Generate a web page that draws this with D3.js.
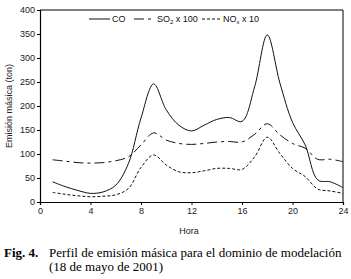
<!DOCTYPE html>
<html>
<head>
<meta charset="utf-8">
<script src="https://cdn.jsdelivr.net/npm/d3@7"></script>
<style>
  body { margin: 0; background: #fff; }
  svg { display: block; }
  .tick text { font-family: "Liberation Sans", Arial, sans-serif; font-size: 9px; fill: #222; }
</style>
</head>
<body>
<div id="chart"></div>
<script>
// hourly emission profiles (ton)
var hours = [1, 2, 3, 4, 5, 6, 7, 8, 9, 10, 11, 12, 13, 14, 15, 16, 17, 18, 19, 20, 21, 22, 23, 24]
var coValues  = [42, 32, 24, 18, 21, 35, 80, 175, 246, 192, 160, 148, 160, 172, 176, 168, 240, 348, 248, 166, 119, 46, 42, 30]
var so2Values = [88, 85, 82, 81, 82, 86, 94, 119, 144, 129, 122, 120, 122, 125, 126, 125, 141, 163, 140, 122, 112, 89, 89, 84]
var noxValues = [20, 16, 13, 11, 12, 15, 28, 72, 98, 77, 63, 61, 65, 70, 70, 68, 94, 135, 101, 70, 53, 27, 23, 18]
var xTicks = [0, 4, 8, 12, 16, 20, 24]
var yTicks = [0, 50, 100, 150, 200, 250, 300, 350, 400]

var series = [
    { name: "CO", values: coValues, dash: null },
    { name: "SO2", values: so2Values, dash: "10,4,3,4" },
    { name: "NOx", values: noxValues, dash: "3,2" }
]

var W = 351, H = 279
var margin = { left: 40, right: 8, top: 10, bottom: 77 }
var width = W - margin.left - margin.right,
    height = H - margin.top - margin.bottom

var svg = d3.select("#chart")
    .append("svg")
        .attr("width", W)
        .attr("height", H)

var g = svg.append("g")
    .attr("transform", "translate(" + margin.left + "," + margin.top + ")")

var x = d3.scaleLinear().domain([0, 24]).range([0, width])
var y = d3.scaleLinear().domain([0, 400]).range([height, 0])

// frame top / right
g.append("line")
    .attr("x1", 0).attr("x2", width).attr("y1", 0).attr("y2", 0)
    .attr("stroke", "#000").attr("stroke-width", 1)
g.append("line")
    .attr("x1", width).attr("x2", width).attr("y1", 0).attr("y2", height)
    .attr("stroke", "#000").attr("stroke-width", 1)

var xAxis = g.append("g")
    .attr("transform", "translate(0," + height + ")")
    .call(d3.axisBottom(x).tickValues(xTicks).tickSize(3).tickPadding(3).tickFormat(d3.format("d")))
var yAxis = g.append("g")
    .call(d3.axisLeft(y).tickValues(yTicks).tickSize(3).tickPadding(2).tickFormat(d3.format("d")))

g.selectAll(".domain").attr("stroke", "#000").attr("stroke-width", 1.2)
g.selectAll(".tick line").attr("stroke", "#000")

var line = d3.line()
    .x(function(d) { return x(d.h) })
    .y(function(d) { return y(d.v) })
    .curve(d3.curveCatmullRom.alpha(0.5))

series.forEach(function(s) {
    var pts = hours.map(function(h, i) { return { h: h, v: s.values[i] } })
    g.append("path")
        .datum(pts)
        .attr("fill", "none")
        .attr("stroke", "#111")
        .attr("stroke-width", 1)
        .attr("stroke-dasharray", s.dash)
        .attr("d", line)
})

// legend
var legend = svg.append("g").attr("font-family", "Liberation Sans, Arial, sans-serif")
    .attr("font-size", "9px").attr("fill", "#111")
var ly = 19
legend.append("line").attr("x1", 89).attr("x2", 110).attr("y1", ly).attr("y2", ly)
    .attr("stroke", "#111")
legend.append("text").attr("x", 112).attr("y", ly + 3).text("CO")
legend.append("line").attr("x1", 134).attr("x2", 154).attr("y1", ly).attr("y2", ly)
    .attr("stroke", "#111").attr("stroke-dasharray", "10,4,3,4")
var so2 = legend.append("text").attr("x", 157).attr("y", ly + 3)
so2.append("tspan").text("SO")
so2.append("tspan").attr("font-size", "6px").attr("dy", 2).text("2")
so2.append("tspan").attr("dy", -2).text(" x 100")
legend.append("line").attr("x1", 202).attr("x2", 221).attr("y1", ly).attr("y2", ly)
    .attr("stroke", "#111").attr("stroke-dasharray", "3,2")
var nox = legend.append("text").attr("x", 223).attr("y", ly + 3)
nox.append("tspan").text("NO")
nox.append("tspan").attr("font-size", "6px").attr("dy", 2).text("x")
nox.append("tspan").attr("dy", -2).text(" x 10")

// axis labels
svg.append("text")
    .attr("transform", "translate(12," + (margin.top + height / 2) + ") rotate(-90)")
    .attr("text-anchor", "middle")
    .attr("font-family", "Liberation Sans, Arial, sans-serif")
    .attr("font-size", "9px").attr("fill", "#222")
    .text("Emisión másica (ton)")
svg.append("text")
    .attr("x", 189).attr("y", 234)
    .attr("text-anchor", "middle")
    .attr("font-family", "Liberation Sans, Arial, sans-serif")
    .attr("font-size", "9px").attr("fill", "#222")
    .text("Hora")

// caption
var cap = svg.append("g").attr("font-family", "Liberation Serif, Times New Roman, serif")
    .attr("font-size", "13px").attr("fill", "#000")
cap.append("text").attr("x", 4).attr("y", 257).attr("font-weight", "bold").text("Fig. 4.")
cap.append("text").attr("x", 49).attr("y", 257).text("Perfil de emisión másica para el dominio de modelación")
cap.append("text").attr("x", 49).attr("y", 271).text("(18 de mayo de 2001)")
</script>
</body>
</html>
